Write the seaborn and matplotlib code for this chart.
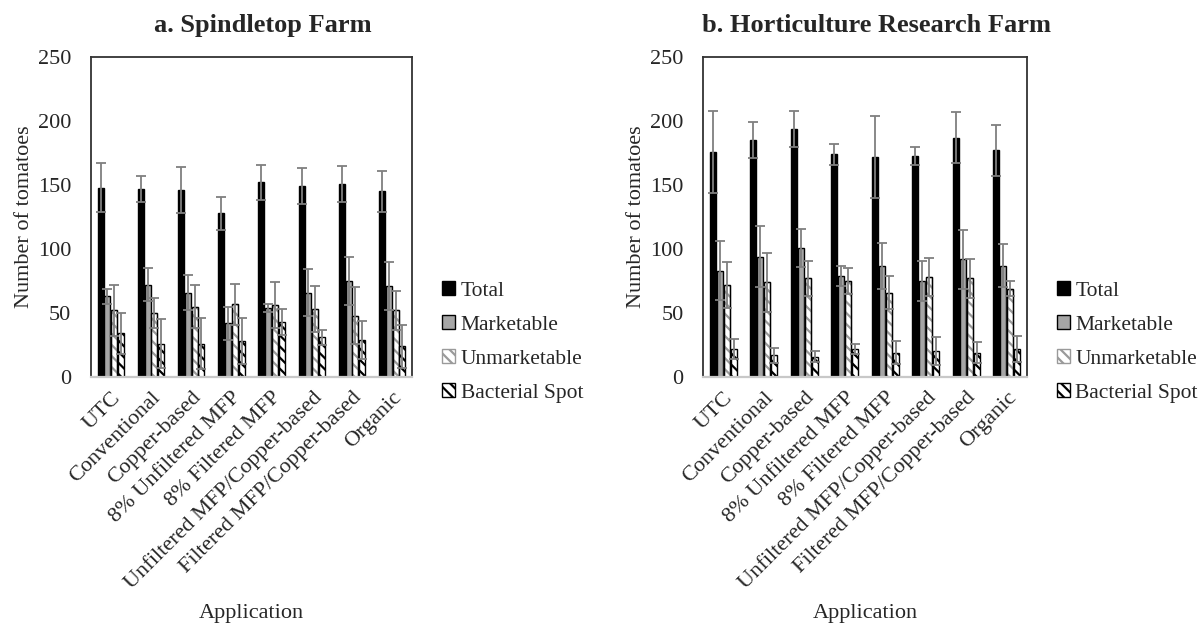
import numpy as np
import pandas as pd
import matplotlib
matplotlib.use("Agg")
import matplotlib.pyplot as plt
from matplotlib.patches import Rectangle
import seaborn as sns

applications = ["UTC", "Conventional", "Copper-based", "8% Unfiltered MFP",
                "8% Filtered MFP", "Unfiltered MFP/Copper-based",
                "Filtered MFP/Copper-based", "Organic"]
measures = ["Total", "Marketable", "Unmarketable", "Bacterial Spot"]

# Spindletop Farm: means and standard errors per application
spindletop_total = [148, 147, 146, 128, 152, 149, 151, 145]
spindletop_total_err = [19, 10, 18, 13, 14, 14, 14, 16]
spindletop_market = [63, 72, 66, 42, 54, 66, 75, 71]
spindletop_market_err = [6, 13, 14, 13, 3, 18, 19, 19]
spindletop_unmarket = [52, 50, 55, 57, 56, 53, 48, 52]
spindletop_unmarket_err = [20, 12, 17, 16, 18, 18, 22, 15]
spindletop_spot = [34, 26, 26, 28, 43, 31, 29, 24]
spindletop_spot_err = [16, 19, 20, 18, 10, 6, 15, 17]

# Horticulture Research Farm: means and standard errors per application
hort_total = [176, 185, 194, 174, 172, 173, 187, 177]
hort_total_err = [32, 14, 14, 8, 32, 7, 20, 20]
hort_market = [83, 94, 101, 79, 87, 75, 92, 87]
hort_market_err = [23, 24, 15, 8, 18, 16, 23, 17]
hort_unmarket = [72, 74, 77, 75, 66, 78, 77, 69]
hort_unmarket_err = [18, 23, 14, 10, 13, 15, 15, 6]
hort_spot = [22, 17, 16, 22, 19, 20, 19, 22]
hort_spot_err = [8, 6, 4, 4, 9, 11, 8, 10]

titles = ["a. Spindletop Farm", "b. Horticulture Research Farm"]
y_ticks = [0, 50, 100, 150, 200, 250]

sns.set_theme(style="white")
plt.rcParams["font.family"] = ["Liberation Serif", "DejaVu Serif"]
plt.rcParams["hatch.linewidth"] = 1.6

FS = 16
LEG_FS = 15.5


def long_table(series):
    rows = []
    for m, vals in zip(measures, series):
        for a, v in zip(applications, vals):
            rows.append({"Application": a, "Measure": m, "Count": v})
    return pd.DataFrame(rows)


fig = plt.figure(figsize=(12, 6.32), dpi=100)
ax_a = fig.add_axes([0.0756, 0.4035, 0.268, 0.5063])
ax_b = fig.add_axes([0.5858, 0.4035, 0.270, 0.5063])

panels = [
    (ax_a, [spindletop_total, spindletop_market, spindletop_unmarket, spindletop_spot],
     [spindletop_total_err, spindletop_market_err, spindletop_unmarket_err, spindletop_spot_err]),
    (ax_b, [hort_total, hort_market, hort_unmarket, hort_spot],
     [hort_total_err, hort_market_err, hort_unmarket_err, hort_spot_err]),
]

palette = {"Total": "black", "Marketable": "#a6a6a6",
           "Unmarketable": "white", "Bacterial Spot": "white"}

for idx, (ax, series, errs) in enumerate(panels):
    df = long_table(series)
    sns.barplot(data=df, x="Application", y="Count", hue="Measure",
                hue_order=measures, order=applications, palette=palette,
                width=0.68, gap=0.12, edgecolor="black", linewidth=1.0,
                errorbar=None, ax=ax, legend=False)
    bar_conts = list(ax.containers)

    for cont, m, err in zip(bar_conts, measures, errs):
        for p in cont.patches:
            if m == "Unmarketable":
                p.set_hatch("\\\\\\")
                p.set_edgecolor("#9a9a9a")
                ax.add_patch(Rectangle(p.get_xy(), p.get_width(), p.get_height(),
                                       fill=False, edgecolor="black", linewidth=1.0,
                                       zorder=p.get_zorder() + 0.1))
            elif m == "Bacterial Spot":
                p.set_hatch("\\\\\\")
                p.set_edgecolor("black")
        xs = [p.get_x() + p.get_width() / 2 for p in cont.patches]
        hs = [p.get_height() for p in cont.patches]
        ax.errorbar(xs, hs, yerr=err, fmt="none", ecolor="#7f7f7f",
                    elinewidth=1.3, capsize=3.5, capthick=1.3, zorder=5)

    ax.set_ylim(0, 250)
    ax.set_xlim(-0.5, len(applications) - 0.5)
    ax.set_yticks(y_ticks)
    ax.set_yticklabels([str(t) for t in y_ticks], fontsize=FS)
    ax.tick_params(axis="y", length=0, pad=14)
    ax.tick_params(axis="x", length=0, pad=8)
    ax.set_xticks(range(len(applications)))
    ax.set_xticklabels(applications, rotation=45, ha="right",
                       rotation_mode="anchor", fontsize=FS)
    ax.set_ylabel("Number of tomatoes", fontsize=FS)
    ax.yaxis.set_label_coords(-0.175, 0.5)
    ax.set_xlabel("Application", fontsize=FS)
    ax.xaxis.set_label_coords(0.5, -0.71)
    for side in ["top", "left", "right"]:
        ax.spines[side].set_color("#333333")
        ax.spines[side].set_linewidth(1.3)
    ax.spines["bottom"].set_color("#c8c8c8")
    ax.spines["bottom"].set_linewidth(1.6)
    ax.set_title(titles[idx], fontsize=19, fontweight="bold", pad=18, x=0.535)

    # legend beside each panel, built from the bar patches
    handles = [c.patches[0] for c in bar_conts]
    bb = ax.get_position()
    fig.legend(handles, measures, loc="center left",
               bbox_to_anchor=(bb.x1 + 0.025, 0.459), frameon=False,
               fontsize=LEG_FS, handlelength=0.6, handleheight=0.6,
               handletextpad=0.25, labelspacing=0.68, borderpad=0,
               borderaxespad=0)

fig.savefig("out.png", dpi=100, facecolor="white")
